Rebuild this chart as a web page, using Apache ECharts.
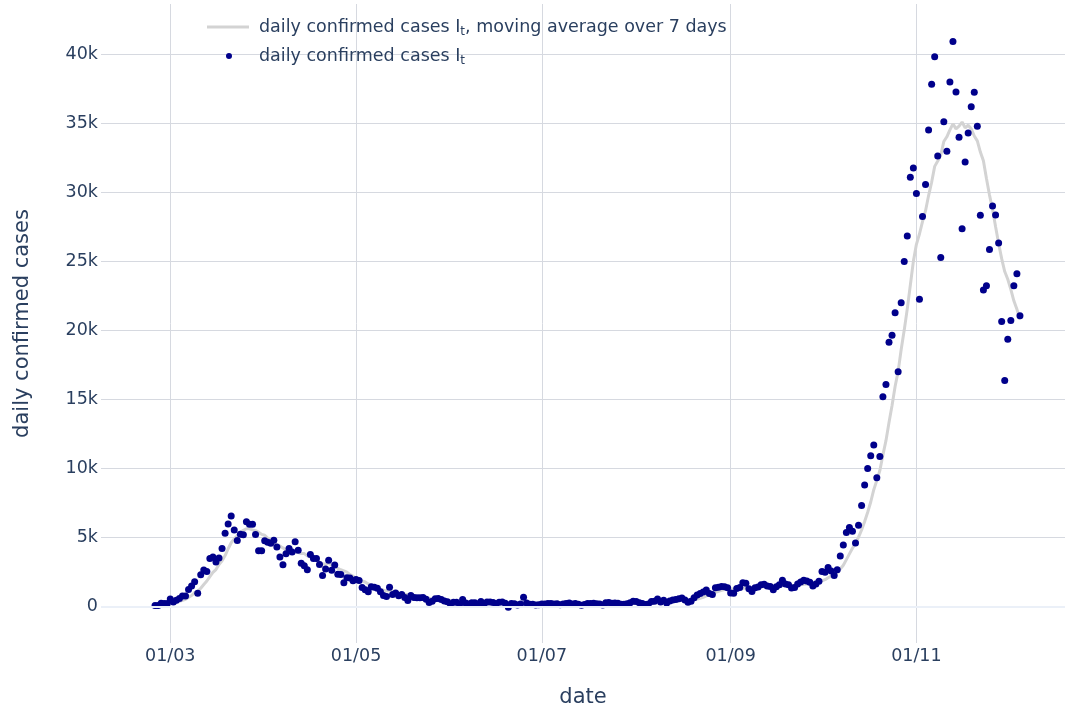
<!DOCTYPE html>
<html>
<head>
<meta charset="utf-8">
<script src="https://cdn.jsdelivr.net/npm/echarts@6/dist/echarts.min.js"></script>
<style>
html,body{margin:0;padding:0;background:#fff;}
#chart{width:1065px;height:709px;}
</style>
</head>
<body>
<div id="chart"></div>
<script>
// first date of the daily series
const START_DATE = '2020-02-25';
// daily confirmed cases, by month
const casesFeb = [93, 78, 250, 238, 240];
const casesMar = [566, 342, 466, 587, 769, 778, 1247, 1492, 1797, 977, 2313, 2651, 2547, 3497, 3590, 3233, 3526, 4207, 5322, 5986, 6557, 5560, 4789, 5249, 5210, 6153, 5959, 5974, 5217, 4050, 4053];
const casesApr = [4782, 4668, 4585, 4805, 4316, 3599, 3039, 3836, 4204, 3951, 4694, 4092, 3153, 2972, 2667, 3786, 3493, 3491, 3047, 2256, 2729, 3370, 2646, 3021, 2357, 2324, 1739, 2091, 2086, 1872];
const casesMay = [1965, 1900, 1389, 1221, 1075, 1444, 1401, 1327, 1083, 802, 744, 1402, 888, 992, 789, 875, 675, 451, 813, 665, 642, 652, 669, 531, 300, 397, 584, 593, 516, 416, 355];
const casesJun = [178, 318, 321, 177, 518, 270, 197, 280, 283, 202, 379, 163, 346, 338, 301, 210, 329, 333, 251, -40, 224, 218, 122, 190, 680, 259, 175, 174, 126, 142];
const casesJul = [187, 201, 223, 235, 192, 208, 138, 193, 229, 276, 188, 234, 169, 114, 162, 230, 233, 249, 219, 190, 129, 282, 306, 252, 275, 255, 170, 181, 212, 289, 386];
const casesAug = [379, 295, 239, 159, 190, 384, 402, 552, 347, 463, 259, 412, 481, 523, 574, 629, 479, 320, 403, 642, 845, 947, 1071, 1210, 953, 878, 1367, 1411, 1462, 1444, 1365];
const casesSep = [996, 978, 1326, 1397, 1733, 1695, 1297, 1108, 1370, 1434, 1597, 1616, 1501, 1458, 1229, 1452, 1585, 1907, 1638, 1587, 1350, 1392, 1640, 1786, 1912, 1869, 1766, 1494, 1648, 1851];
const casesOct = [2548, 2499, 2844, 2578, 2257, 2677, 3678, 4458, 5372, 5724, 5456, 4619, 5901, 7332, 8804, 10010, 10925, 11705, 9338, 10874, 15199, 16079, 19143, 19644, 21273, 17012, 21994, 24991, 26831, 31084, 31758];
const casesNov = [29907, 22253, 28244, 30550, 34505, 37809, 39811, 32616, 25271, 35098, 32961, 37978, 40902, 37255, 33979, 27354, 32191, 34283, 36176, 37242, 34767, 28337, 22930, 23232, 25853, 29003, 28352, 26323, 20648, 16377];
const casesDec = [19350, 20709, 23225, 24099, 21052];
// window of the moving average (days)
const MA_WINDOW = 7;
// y tick labels step
const Y_TICK_STEP = 5000;

const daily = [].concat(casesFeb, casesMar, casesApr, casesMay, casesJun, casesJul, casesAug, casesSep, casesOct, casesNov, casesDec);

// build the date for every daily value
function pad(n){ return (n < 10 ? '0' : '') + n; }
const dates = [];
{
  const p = START_DATE.split('-').map(Number);
  for (let i = 0; i < daily.length; i++) {
    const d = new Date(p[0], p[1] - 1, p[2] + i);
    dates.push(d.getFullYear() + '-' + pad(d.getMonth() + 1) + '-' + pad(d.getDate()));
  }
}
// trailing 7-day moving average of the daily values
const movingAvg = daily.map((v, i) => {
  if (i < MA_WINDOW - 1) return null;
  let s = 0;
  for (let k = i - MA_WINDOW + 1; k <= i; k++) s += daily[k];
  return s / MA_WINDOW;
});

const scatterData = dates.map((d, i) => [d, daily[i]]);
const lineData = dates.map((d, i) => [d, movingAvg[i]]);

const TXT = '#2a3f5f';
const GRID = '#d6d9e0';
const FONT = 'DejaVu Sans, Open Sans, sans-serif';
const DAY = 24 * 3600 * 1000;

const chart = echarts.init(document.getElementById('chart'), null, {renderer: 'canvas'});
const legendRich = { sub: { fontSize: 12, color: TXT, fontFamily: FONT, padding: [9, 0, 0, 0] } };

chart.setOption({
  animation: false,
  backgroundColor: '#ffffff',
  textStyle: { fontFamily: FONT, color: TXT },
  grid: { left: 101, right: 0, top: 4, bottom: 66, containLabel: false, outerBoundsMode: 'none' },
  legend: [
    {
      data: ['ma'],
      left: 207, top: 18, padding: 0,
      itemWidth: 47, itemHeight: 3, itemGap: 10,
      icon: 'path://M0,0L42,0L42,3L0,3Z M47,0L47,3L47,0Z',
      itemStyle: { borderWidth: 0 },
      formatter: () => 'daily confirmed cases I{sub|t}, moving average over 7 days',
      textStyle: { fontSize: 17.5, color: TXT, fontFamily: FONT, rich: legendRich },
      selectedMode: false
    },
    {
      data: ['daily'],
      left: 207, top: 47, padding: 0,
      itemWidth: 47, itemHeight: 6, itemGap: 10,
      icon: 'path://M0,0L0,0Z M19,3A3,3 0 1,1 25,3A3,3 0 1,1 19,3Z M47,6L47,6Z',
      itemStyle: { borderWidth: 0 },
      formatter: () => 'daily confirmed cases I{sub|t}',
      textStyle: { fontSize: 17.5, color: TXT, fontFamily: FONT, rich: legendRich },
      selectedMode: false
    }
  ],
  xAxis: {
    type: 'time',
    min: new Date(2020, 1, 7, 6).getTime(),
    max: new Date(2020, 11, 19, 19).getTime(),
    minInterval: 58 * DAY,
    maxInterval: 64 * DAY,
    splitNumber: 5,
    name: 'date',
    nameLocation: 'middle',
    nameGap: 44,
    nameTextStyle: { fontSize: 21, color: TXT, fontFamily: FONT },
    axisLine: { show: false, onZero: false },
    axisTick: { show: false },
    splitLine: { show: true, showMinLine: false, showMaxLine: false, lineStyle: { color: GRID, width: 1 } },
    axisLabel: {
      fontSize: 17.5, color: TXT, fontFamily: FONT, margin: 4,
      showMinLabel: false, showMaxLabel: false,
      formatter: (v) => { const d = new Date(v); return pad(d.getDate()) + '/' + pad(d.getMonth() + 1); }
    }
  },
  yAxis: {
    type: 'value',
    min: -2627,
    max: 43620,
    splitNumber: 9,
    name: 'daily confirmed cases',
    nameLocation: 'middle',
    nameGap: 68,
    nameTextStyle: { fontSize: 21, color: TXT, fontFamily: FONT },
    axisLine: { show: false },
    axisTick: { show: false },
    splitLine: { show: true, showMinLine: false, showMaxLine: false, lineStyle: { color: GRID, width: 1 } },
    axisLabel: {
      fontSize: 17.5, color: TXT, fontFamily: FONT, margin: 3,
      showMinLabel: false, showMaxLabel: false,
      formatter: (v) => v === 0 ? '0' : (v % Y_TICK_STEP === 0 ? (v / 1000) + 'k' : '')
    }
  },
  series: [
    {
      name: 'ma',
      type: 'line',
      data: lineData,
      showSymbol: false,
      symbol: 'none',
      connectNulls: false,
      lineStyle: { color: '#d3d3d3', width: 3 },
      itemStyle: { color: '#d3d3d3' },
      z: 2,
      markLine: {
        silent: true,
        symbol: ['none', 'none'],
        label: { show: false },
        lineStyle: { color: '#ebf0f8', width: 2, type: 'solid' },
        data: [{ yAxis: 0 }]
      }
    },
    {
      name: 'daily',
      type: 'scatter',
      data: scatterData,
      symbol: 'circle',
      symbolSize: 7,
      itemStyle: { color: '#00008b', opacity: 1 },
      z: 3
    }
  ]
});
</script>
</body>
</html>
